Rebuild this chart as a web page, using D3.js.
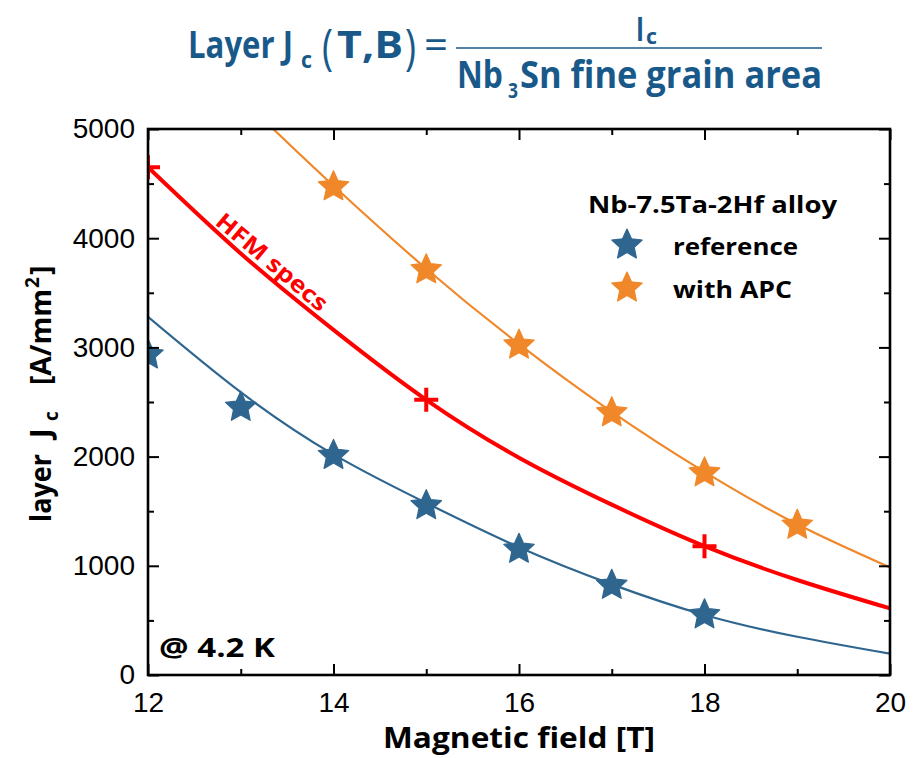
<!DOCTYPE html>
<html>
<head>
<meta charset="utf-8">
<script src="https://cdn.jsdelivr.net/npm/d3@7"></script>
<style>
  body { margin: 0; background: #fff; }
  svg { display: block; }
</style>
</head>
<body>
<svg id="chart" width="917" height="758"></svg>
<script>
// ---------- data ----------
const refField = [12, 13, 14, 15, 16, 17, 18];
const refJc    = [2940, 2460, 2020, 1560, 1160, 830, 560];

const apcField = [14, 15, 16, 17, 18, 19];
const apcJc    = [4480, 3720, 3030, 2410, 1860, 1380];

const specField = [12, 15, 18];
const specJc    = [4650, 2520, 1180];

// fitted curves
const refFitField = [12, 13, 14, 15, 16, 17, 18, 19, 20];
const refFitJc    = [3280, 2590, 2020, 1575, 1170, 830, 550, 350, 195];

const apcFitField = [13.35, 14, 15, 16, 17, 18, 19, 20];
const apcFitJc    = [5000, 4480, 3720, 3030, 2410, 1860, 1380, 985];

const specFitField = [12, 13, 14, 15, 16, 17, 18, 19, 20];
const specFitJc    = [4650, 3860, 3160, 2520, 1990, 1560, 1180, 870, 610];

const xMajorTicks = [12, 14, 16, 18, 20];
const xMinorTicks = [13, 15, 17, 19];
const yMajorTicks = [0, 1000, 2000, 3000, 4000, 5000];
const yMinorTicks = [500, 1500, 2500, 3500, 4500];

// ---------- setup ----------
const svg = d3.select("#chart");
const pL = 148, pR = 890, pT = 129, pB = 675;
const x = d3.scaleLinear().domain([12, 20]).range([pL, pR]);
const y = d3.scaleLinear().domain([0, 5000]).range([pB, pT]);

const BLUE = "#2f6690", ORANGE = "#f0882a", RED = "#ff0000", TITLE = "#19598a";
const boldFont = "'Open Sans', 'DejaVu Sans', sans-serif";
const tickFont = "'Liberation Sans', Arial, sans-serif";

// ---------- title (formula) ----------
const tg = svg.append("g").attr("fill", TITLE).style("font-family", boldFont).style("font-weight", "bold");
function piece(t, s, px, py, fs, len, normal) {
  const sp = t.append("tspan").attr("x", px).attr("y", py).style("font-size", fs + "px")
    .attr("textLength", len).attr("lengthAdjust", "spacingAndGlyphs").text(s);
  if (normal) sp.style("font-weight", "normal");
  return sp;
}
const lhs = tg.append("text");
piece(lhs, "Layer J", 188, 58, 37, 105);
piece(lhs, "c", 301, 68, 23, 11);
piece(lhs, "(", 322, 64, 50, 11, true);
piece(lhs, "T,B", 337, 58, 37, 66);
piece(lhs, ")", 405, 64, 50, 11, true);
piece(lhs, "=", 424, 59, 40, 24, true);

tg.append("line").attr("x1", 456).attr("x2", 822).attr("y1", 48).attr("y2", 48)
  .attr("stroke", TITLE).attr("stroke-width", 1.6);

const num = tg.append("text");
piece(num, "I", 636, 41, 34, 8);
piece(num, "c", 646, 44, 22, 11);

const den = tg.append("text");
piece(den, "Nb", 457, 88, 37, 46);
piece(den, "3", 508, 98, 22, 10);
piece(den, "Sn fine grain area", 520, 88, 37, 302);

// ---------- clip ----------
svg.append("defs").append("clipPath").attr("id", "plotclip")
  .append("rect").attr("x", pL).attr("y", pT).attr("width", pR - pL).attr("height", pB - pT);

const plot = svg.append("g").attr("clip-path", "url(#plotclip)");

// ---------- curves ----------
const line = d3.line().x(d => x(d[0])).y(d => y(d[1])).curve(d3.curveNatural);
const curves = plot.append("g").attr("fill", "none");
curves.append("path").datum(d3.zip(refFitField, refFitJc)).attr("d", line)
  .attr("stroke", BLUE).attr("stroke-width", 2.2);
curves.append("path").datum(d3.zip(apcFitField, apcFitJc)).attr("d", line)
  .attr("stroke", ORANGE).attr("stroke-width", 2.2);
curves.append("path").datum(d3.zip(specFitField, specFitJc)).attr("d", line)
  .attr("stroke", RED).attr("stroke-width", 4);

// ---------- star markers ----------
const starPts = d3.range(10).map(i => [i * Math.PI / 5, i % 2 === 0 ? 16 : 7.6]);
const starPath = d3.lineRadial().angle(d => d[0]).radius(d => d[1]).curve(d3.curveLinearClosed)(starPts);

plot.append("g").selectAll("path").data(d3.zip(refField, refJc)).join("path")
  .attr("d", starPath).attr("transform", d => `translate(${x(d[0])},${y(d[1]) + 1})`)
  .attr("fill", BLUE).attr("stroke", BLUE).attr("stroke-width", 1.2).attr("stroke-linejoin", "round");
plot.append("g").selectAll("path").data(d3.zip(apcField, apcJc)).join("path")
  .attr("d", starPath).attr("transform", d => `translate(${x(d[0])},${y(d[1]) + 1})`)
  .attr("fill", ORANGE).attr("stroke", ORANGE).attr("stroke-width", 1.2).attr("stroke-linejoin", "round");

// plus markers
plot.append("g").attr("stroke", RED).attr("stroke-width", 4)
  .selectAll("path").data(d3.zip(specField, specJc)).join("path")
  .attr("d", d => { const cx = x(d[0]), cy = y(d[1]);
    return `M${cx - 12},${cy}H${cx + 12}M${cx},${cy - 12}V${cy + 12}`; });

// ---------- axes ----------
function styleAxis(g) {
  g.select(".domain").remove();
  g.selectAll(".tick line").attr("stroke", "#000").attr("stroke-width", 2);
  g.selectAll(".tick text").attr("fill", "#000").style("font-family", tickFont).style("font-size", "28px");
}
svg.append("g").attr("transform", `translate(0,${pB})`)
  .call(d3.axisBottom(x).tickValues(xMajorTicks).tickFormat(d3.format("d")).tickSize(-11))
  .call(styleAxis).call(g => g.selectAll(".tick text").attr("dy", 0).attr("y", 37));
svg.append("g").attr("transform", `translate(0,${pB})`)
  .call(d3.axisBottom(x).tickValues(xMinorTicks).tickFormat("").tickSize(-6)).call(styleAxis);
svg.append("g").attr("transform", `translate(0,${pT})`)
  .call(d3.axisTop(x).tickValues(xMajorTicks).tickFormat("").tickSize(-11)).call(styleAxis);
svg.append("g").attr("transform", `translate(0,${pT})`)
  .call(d3.axisTop(x).tickValues(xMinorTicks).tickFormat("").tickSize(-6)).call(styleAxis);

svg.append("g").attr("transform", `translate(${pL},0)`)
  .call(d3.axisLeft(y).tickValues(yMajorTicks).tickFormat(d3.format("d")).tickSize(-11))
  .call(styleAxis).call(g => g.selectAll(".tick text").attr("x", -13));
svg.append("g").attr("transform", `translate(${pL},0)`)
  .call(d3.axisLeft(y).tickValues(yMinorTicks).tickFormat("").tickSize(-6)).call(styleAxis);
svg.append("g").attr("transform", `translate(${pR},0)`)
  .call(d3.axisRight(y).tickValues(yMajorTicks).tickFormat("").tickSize(-11)).call(styleAxis);
svg.append("g").attr("transform", `translate(${pR},0)`)
  .call(d3.axisRight(y).tickValues(yMinorTicks).tickFormat("").tickSize(-6)).call(styleAxis);

svg.append("rect").attr("x", pL).attr("y", pT).attr("width", pR - pL).attr("height", pB - pT)
  .attr("fill", "none").attr("stroke", "#000").attr("stroke-width", 2.6);

// ---------- axis labels ----------
svg.append("text").attr("x", 383).attr("y", 748)
  .style("font-family", boldFont).style("font-weight", "bold").style("font-size", "29px")
  .attr("textLength", 272).attr("lengthAdjust", "spacingAndGlyphs").text("Magnetic field [T]");

const yl = svg.append("text").attr("transform", "translate(51,522) rotate(-90)")
  .style("font-family", boldFont).style("font-weight", "bold").style("font-size", "29px")
  .style("white-space", "pre").attr("fill", "#000");
yl.append("tspan").attr("x", 0).attr("y", 0)
  .attr("textLength", 68).attr("lengthAdjust", "spacingAndGlyphs").text("layer");
yl.append("tspan").attr("x", 84).attr("y", 0).text("J");
yl.append("tspan").attr("x", 101).attr("y", 7).style("font-size", "19px").text("c");
yl.append("tspan").attr("x", 137).attr("y", 0)
  .attr("textLength", 96).attr("lengthAdjust", "spacingAndGlyphs").text("[A/mm");
yl.append("tspan").attr("x", 234).attr("y", -12).style("font-size", "19px").text("2");
yl.append("tspan").attr("x", 247).attr("y", 0).text("]");

// ---------- annotations ----------
svg.append("text").attr("x", 159).attr("y", 657)
  .style("font-family", boldFont).style("font-weight", "bold").style("font-size", "27px")
  .attr("textLength", 116).attr("lengthAdjust", "spacingAndGlyphs").text("@ 4.2 K");

svg.append("text").attr("transform", "translate(272,262) rotate(40)")
  .attr("text-anchor", "middle").attr("dy", "0.35em").attr("fill", RED)
  .style("font-family", boldFont).style("font-weight", "bold").style("font-size", "23px")
  .attr("textLength", 138).attr("lengthAdjust", "spacingAndGlyphs").text("HFM specs");

// ---------- legend ----------
const lg = svg.append("g").style("font-family", boldFont).style("font-weight", "bold").attr("fill", "#000");
lg.append("text").attr("x", 588).attr("y", 213).style("font-size", "24px")
  .attr("textLength", 249).attr("lengthAdjust", "spacingAndGlyphs").text("Nb-7.5Ta-2Hf alloy");
const legendItems = [
  { label: "reference", color: BLUE, y: 245, w: 125 },
  { label: "with APC", color: ORANGE, y: 288, w: 119 }
];
legendItems.forEach(it => {
  lg.append("path").attr("d", starPath).attr("transform", `translate(627,${it.y})`)
    .attr("fill", it.color).attr("stroke", it.color).attr("stroke-width", 1.2).attr("stroke-linejoin", "round");
  lg.append("text").attr("x", 673).attr("y", it.y + 10).style("font-size", "24px")
    .attr("textLength", it.w).attr("lengthAdjust", "spacingAndGlyphs").text(it.label);
});
</script>
</body>
</html>
